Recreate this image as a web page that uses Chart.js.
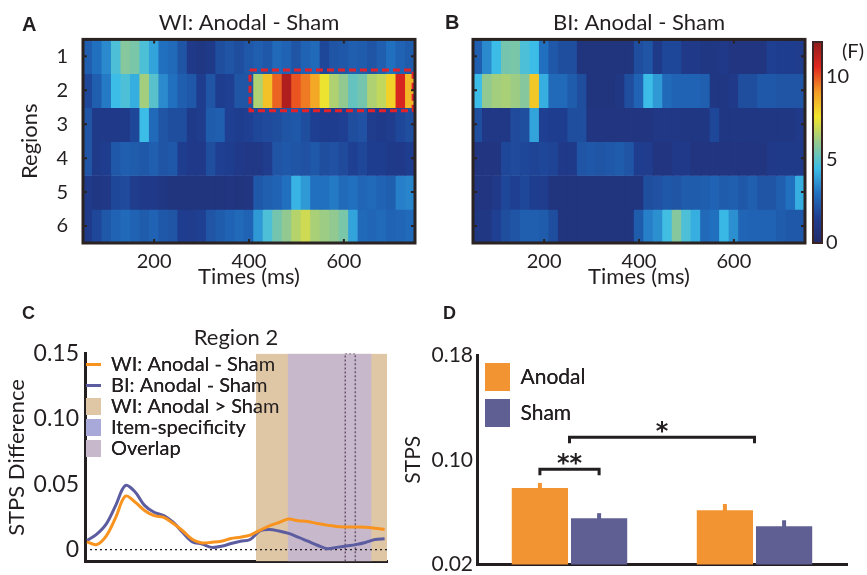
<!DOCTYPE html>
<html>
<head>
<meta charset="UTF-8">
<title>STPS: Anodal vs Sham</title>
<script src="https://cdn.jsdelivr.net/npm/chart.js@4.4.1/dist/chart.umd.min.js"></script>
<style>
    body { margin: 0; background: #fff; font-family: Lato, sans-serif; color: #231f20; }
    #fig { position: relative; width: 867px; height: 575px; overflow: hidden; }
    canvas { position: absolute; }
    .tag { position: absolute; font-family: "Liberation Sans", Arial, sans-serif; font-weight: bold; }
    .unit { position: absolute; font: 20px Lato, sans-serif; }
</style>
</head>
<body>
<div id="fig">
    <canvas id="heatA" width="430" height="290" style="left:0;top:0"></canvas>
    <canvas id="heatB" width="375" height="290" style="left:440px;top:0"></canvas>
    <canvas id="cbar" width="62" height="290" style="left:805px;top:0"></canvas>
    <canvas id="lineC" width="400" height="279" style="left:0;top:300px"></canvas>
    <canvas id="barD" width="467" height="279" style="left:400px;top:300px"></canvas>
    <div class="tag" style="left:22px;top:13px;font-size:20px">A</div>
    <div class="tag" style="left:445px;top:11px;font-size:20px">B</div>
    <div class="tag" style="left:22px;top:303px;font-size:18px">C</div>
    <div class="tag" style="left:443px;top:303px;font-size:18px">D</div>
    <div class="unit" style="left:842px;top:38px">(F)</div>
</div>

<script>
    // ---- data ----
    var regions = [1, 2, 3, 4, 5, 6];
    var times = [60, 80, 100, 120, 140, 160, 180, 200, 220, 240, 260, 280, 300, 320, 340, 360, 380, 400,
                 420, 440, 460, 480, 500, 520, 540, 560, 580, 600, 620, 640, 660, 680, 700, 720, 740];
    var timeTicks = [200, 400, 600];

    // F values per region (rows) and time bin (columns)
    var wiHeat = [
        [2.5,3.0,3.5,4.8,5.8,5.6,4.8,4.0,3.0,2.8,2.2,1.2,1.0,1.3,2.0,2.2,2.0,2.3,2.5,2.3,2.8,2.6,2.2,2.6,2.8,1.8,2.2,2.3,2.5,2.4,2.2,2.5,3.0,2.6,2.4],
        [1.8,2.5,3.2,4.5,4.8,4.2,6.3,5.0,3.5,3.0,2.5,2.3,1.5,2.2,1.5,1.6,2.2,2.2,6.5,8.3,9.8,11.5,10.0,9.5,8.8,7.5,6.5,6.0,5.2,5.5,6.5,6.8,8.0,10.8,8.5],
        [2.2,1.3,1.2,1.2,1.3,1.8,4.5,2.8,2.2,2.0,2.0,1.3,1.4,2.4,2.5,1.6,1.5,1.6,1.8,1.9,2.0,2.2,2.3,2.0,1.6,1.5,1.5,1.6,2.0,2.1,1.4,1.3,1.4,1.8,2.0],
        [2.2,1.3,1.5,2.3,2.5,2.4,2.3,2.5,2.2,2.3,1.5,1.2,1.2,2.0,1.6,1.5,1.2,1.1,1.1,1.4,2.2,2.3,2.2,2.1,2.3,2.0,2.1,1.9,1.6,1.8,1.5,1.5,1.3,1.2,1.5],
        [1.3,1.0,1.1,1.8,1.9,1.4,1.2,1.2,1.0,0.8,0.8,0.8,0.8,0.8,0.8,0.9,0.8,0.9,2.3,2.5,2.6,3.0,4.3,3.8,3.0,3.0,3.2,2.8,3.0,2.7,2.8,2.6,2.5,3.3,3.4],
        [1.3,1.8,2.3,2.6,2.8,2.6,2.4,2.6,2.3,2.2,1.5,1.4,1.6,2.2,2.4,2.6,2.8,2.6,3.8,4.8,5.5,6.0,6.6,7.0,6.4,6.2,6.0,5.6,4.0,2.8,2.7,2.8,2.6,2.7,2.8]
    ];
    var biHeat = [
        [2.5,3.5,4.5,5.5,5.6,4.8,4.5,3.0,2.3,2.0,2.0,0.8,0.8,0.8,0.8,0.8,0.8,2.0,2.2,1.3,1.8,1.8,1.2,1.2,1.0,1.0,1.2,0.9,0.9,0.9,0.9,1.6,1.5,1.5,1.4],
        [4.5,6.0,6.3,6.4,6.2,5.8,8.2,4.2,2.8,2.8,2.4,2.0,0.8,0.8,0.8,1.0,2.0,2.6,4.5,3.8,2.8,2.6,2.6,2.6,2.5,1.0,1.0,1.2,2.0,2.0,2.3,2.3,2.2,2.2,2.2],
        [2.0,1.1,1.1,1.1,1.9,2.0,4.0,1.6,1.5,1.5,2.0,2.0,0.9,0.9,0.9,0.9,0.9,0.9,0.9,1.1,1.1,1.1,1.0,1.0,1.0,1.8,1.0,1.0,1.0,1.0,1.0,1.0,1.0,1.0,1.2],
        [0.9,0.9,0.9,1.8,1.9,1.8,1.7,1.8,1.7,1.2,1.3,2.2,2.3,2.2,2.3,2.4,2.2,1.5,1.4,0.9,0.9,1.2,1.2,0.9,0.9,0.9,0.9,0.9,0.9,0.9,0.9,1.2,1.3,1.3,1.3],
        [0.9,0.9,1.2,1.8,1.6,1.8,1.5,1.4,0.8,0.8,0.8,0.8,0.8,0.8,0.8,0.8,0.8,0.8,2.0,2.1,2.3,2.2,2.4,2.4,2.5,2.6,2.4,2.5,2.3,2.5,2.2,2.2,2.5,3.0,4.2],
        [1.0,1.0,1.6,2.0,2.2,2.5,2.5,2.4,2.0,0.8,0.8,0.8,0.8,0.8,0.8,0.8,0.8,2.4,3.3,3.6,4.6,5.8,4.8,4.2,2.8,3.0,4.4,3.6,2.7,2.6,2.6,2.6,2.4,2.3,2.3]
    ];
    // highlighted window in panel A (region 2)
    var boxTimes = [402, 746];
    var boxRows = [1.4, 2.6];

    var cbarMax = 12.1;
    var cbarTicks = [0, 5, 10];

    // panel C: region 2 time course
    var timesC = [60, 80, 100, 120, 140, 160, 180, 200, 220, 240, 260, 280, 300, 320, 340, 360,
                  380, 400, 420, 440, 460, 480, 500, 520, 540, 560, 580, 600, 620, 640, 660, 680];
    var wiDiff = [0.0060, 0.0039, 0.0104, 0.0247, 0.0409, 0.0365, 0.0300, 0.0260, 0.0247, 0.0200, 0.0143, 0.0078,
                  0.0052, 0.0057, 0.0065, 0.0086, 0.0096, 0.0112, 0.0148, 0.0182, 0.0208, 0.0234, 0.0221, 0.0216,
                  0.0200, 0.0188, 0.0177, 0.0174, 0.0174, 0.0172, 0.0164, 0.0154];
    var biDiff = [0.0070, 0.0117, 0.0195, 0.0339, 0.0490, 0.0443, 0.0339, 0.0286, 0.0260, 0.0208, 0.0130, 0.0060,
                  0.0044, 0.0018, 0.0026, 0.0047, 0.0065, 0.0078, 0.0143, 0.0154, 0.0143, 0.0125, 0.0096, 0.0065,
                  0.0034, 0.0008, 0.0018, 0.0029, 0.0039, 0.0055, 0.0078, 0.0083];
    var wiSigWindow = [412, 685];
    var overlapWindow = [478, 653];
    var dottedWindow = [598, 619];
    var xRangeC = [56, 685];
    var yRangeC = [-0.009, 0.15];
    var yTicksC = [0, 0.05, 0.10, 0.15];
    var yTickLabelsC = ['0', '0.05', '0.10', '0.15'];
    var legendNamesC = ['WI: Anodal - Sham', 'BI: Anodal - Sham', 'WI: Anodal > Sham', 'Item-specificity', 'Overlap'];

    // panel D
    var groupsD = ['WI', 'BI'];
    var anodalD = [0.0785, 0.0615];
    var shamD = [0.0554, 0.0492];
    var anodalErr = [0.0038, 0.0047];
    var shamErr = [0.0038, 0.0046];
    var yTicksD = [0.02, 0.10, 0.18];
    var yTickLabelsD = ['0.02', '0.10', '0.18'];
    var sigLevels = [0.0928, 0.1172];
    var sigMarks = ['**', '*'];
    var sigFrom = [[0, 0], [-1, 0]];   // [dataset, index]; -1 = group centre
    var sigTo = [[1, 0], [-1, 1]];

    // ---- styles ----
    var ink = '#231f20';
    var frameInk = '#2b2222';
    var orange = '#f7931e';
    var purple = '#5c5ca0';
    var barOrange = '#f39433';
    var barPurple = '#5f5f94';
    var legendColorsC = [orange, purple, '#dfc6a5', '#a9a9d9', '#c7b9cb'];
    var legendStylesC = ['line', 'line', 'rect', 'rect', 'rect'];
    var cmapStops = [0, 1.5, 3.0, 4.5, 6.05, 7.6, 9.1, 10.6, 12.1];
    var cmapColors = ['#232a6a', '#1f3d8f', '#2170c0', '#3cbde8', '#94c98e', '#f2e52a', '#f39a25', '#e2261f', '#8e1b1c'];

    Chart.defaults.font.family = 'Lato, "Open Sans", sans-serif';
    Chart.defaults.color = ink;
    Chart.defaults.animation = false;
    Chart.defaults.responsive = false;
    Chart.defaults.events = [];
    Chart.defaults.plugins.tooltip.enabled = false;

    function hexRgb(h) {
        var n = parseInt(h.slice(1), 16);
        return [n >> 16, (n >> 8) & 255, n & 255];
    }
    function heatColor(v) {
        if (v <= cmapStops[0]) return cmapColors[0];
        for (var k = 1; k < cmapStops.length; k++) {
            if (v <= cmapStops[k]) {
                var f = (v - cmapStops[k - 1]) / (cmapStops[k] - cmapStops[k - 1]);
                var a = hexRgb(cmapColors[k - 1]), b = hexRgb(cmapColors[k]);
                return 'rgb(' + a.map(function (x, m) { return Math.round(x + (b[m] - x) * f); }).join(',') + ')';
            }
        }
        return cmapColors[cmapColors.length - 1];
    }
    function fixedTicks(list) {
        return function (scale) { scale.ticks = list.map(function (v) { return { value: v }; }); };
    }

    // frame round the plot area, with small inward ticks
    var framePlugin = {
        id: 'frame',
        afterDraw: function (chart, args, opts) {
            var ctx = chart.ctx, a = chart.chartArea, sx = chart.scales.x, sy = chart.scales.y;
            ctx.save();
            ctx.strokeStyle = opts.color;
            ctx.lineWidth = opts.width;
            ctx.strokeRect(a.left, a.top, a.right - a.left, a.bottom - a.top);
            if (opts.tickLen) {
                ctx.lineWidth = 2;
                ctx.beginPath();
                sx.ticks.forEach(function (t) {
                    var px = sx.getPixelForValue(t.value);
                    ctx.moveTo(px, a.top); ctx.lineTo(px, a.top + opts.tickLen);
                    ctx.moveTo(px, a.bottom); ctx.lineTo(px, a.bottom - opts.tickLen);
                });
                sy.ticks.forEach(function (t) {
                    var py = sy.getPixelForValue(t.value);
                    ctx.moveTo(a.left, py); ctx.lineTo(a.left + opts.tickLen, py);
                    ctx.moveTo(a.right, py); ctx.lineTo(a.right - opts.tickLen, py);
                });
                ctx.stroke();
            }
            ctx.restore();
        }
    };

    // keep an inside legend pinned to the top-left corner of the plot area
    var legendInArea = {
        id: 'legendInArea',
        afterLayout: function (chart) {
            var lg = chart.legend, a = chart.chartArea;
            if (!lg) return;
            lg.left = a.left; lg.top = a.top; lg.right = a.right; lg.bottom = a.bottom;
        },
        afterDatasetsDraw: function (chart) { chart.legend.draw(); }
    };

    function heatmap(id, rows, title, yWidth, padRight, showRows, box) {
        var datasets = rows.map(function (vals, i) {
            return {
                type: 'bar',
                data: times.map(function (t) { return { x: t, y: [regions[i] - 0.5, regions[i] + 0.52] }; }),
                backgroundColor: vals.map(heatColor),
                borderWidth: 0,
                grouped: false,
                barPercentage: 1.1,
                categoryPercentage: 1,
                order: 1
            };
        });
        if (box) {
            datasets.unshift({
                type: 'line',
                data: [
                    { x: boxTimes[0], y: boxRows[0] }, { x: boxTimes[1], y: boxRows[0] },
                    { x: boxTimes[1], y: boxRows[1] }, { x: boxTimes[0], y: boxRows[1] },
                    { x: boxTimes[0], y: boxRows[0] }
                ],
                borderColor: '#e3212b',
                borderWidth: 3,
                borderDash: [7, 4],
                pointRadius: 0,
                fill: false,
                clip: false,
                order: 0
            });
        }
        return new Chart(document.getElementById(id), {
            type: 'bar',
            data: { datasets: datasets },
            options: {
                layout: { padding: { right: padRight } },
                plugins: {
                    legend: { display: false },
                    title: { display: true, text: title, fullSize: false, font: { size: 22, weight: 'normal' },
                             color: ink, padding: { top: 10, bottom: 3 } },
                    frame: { color: frameInk, width: 3, tickLen: 4 }
                },
                scales: {
                    x: {
                        type: 'linear', min: 50, max: 750, offset: false,
                        afterBuildTicks: fixedTicks(timeTicks),
                        ticks: { font: { size: 20 }, padding: 7, color: ink },
                        grid: { display: false, drawTicks: false, offset: false },
                        border: { display: false },
                        title: { display: true, text: 'Times (ms)', font: { size: 22 }, color: ink, padding: { top: 0, bottom: 0 } },
                        afterFit: function (s) { s.height = 47; }
                    },
                    y: {
                        type: 'linear', min: 0.5, max: 6.5, reverse: true,
                        afterBuildTicks: fixedTicks(regions),
                        ticks: { display: showRows, font: { size: 20 }, padding: 15, color: ink },
                        grid: { display: false, drawTicks: false },
                        border: { display: false },
                        title: { display: showRows, text: 'Regions', font: { size: 22 }, color: ink, padding: { top: 17, bottom: 0 } },
                        afterFit: function (s) { s.width = yWidth; }
                    }
                }
            },
            plugins: [framePlugin]
        });
    }

    heatmap('heatA', wiHeat, 'WI: Anodal - Sham', 83, 15, true, true);
    heatmap('heatB', biHeat, 'BI: Anodal - Sham', 33, 10, false, false);

    // colour bar
    new Chart(document.getElementById('cbar'), {
        type: 'bar',
        data: {
            labels: ['F'],
            datasets: [{
                data: [[0, cbarMax]],
                backgroundColor: function (c) {
                    var chart = c.chart, y = chart.scales.y;
                    if (!chart.chartArea || !y) return cmapColors[0];
                    var g = chart.ctx.createLinearGradient(0, y.getPixelForValue(0), 0, y.getPixelForValue(cbarMax));
                    cmapStops.forEach(function (s, k) { g.addColorStop(s / cbarMax, cmapColors[k]); });
                    return g;
                },
                borderWidth: 0,
                barPercentage: 1,
                categoryPercentage: 1
            }]
        },
        options: {
            layout: { padding: { left: 8, top: 42, bottom: 47 } },
            plugins: { legend: { display: false }, frame: { color: '#3a2424', width: 2 } },
            scales: {
                x: { display: false },
                y: {
                    position: 'right', min: 0, max: cbarMax,
                    afterBuildTicks: fixedTicks(cbarTicks),
                    ticks: { font: { size: 20 }, padding: 4, color: ink },
                    grid: { display: false, drawTicks: false },
                    border: { display: false },
                    afterFit: function (s) { s.width = 45; }
                }
            }
        },
        plugins: [framePlugin]
    });

    // panel C
    function span(range, level) {
        return [{ x: range[0], y: level }, { x: range[1], y: level }];
    }

    new Chart(document.getElementById('lineC'), {
        type: 'line',
        data: {
            datasets: [
                { data: timesC.map(function (t, i) { return { x: t, y: wiDiff[i] }; }),
                  borderColor: orange, borderWidth: 3, pointRadius: 0, tension: 0.35, order: 0 },
                { data: timesC.map(function (t, i) { return { x: t, y: biDiff[i] }; }),
                  borderColor: purple, borderWidth: 3, pointRadius: 0, tension: 0.35, order: 0 },
                { data: span(xRangeC, 0), borderColor: ink, borderWidth: 1.3, borderDash: [2, 3], pointRadius: 0, order: 1 },
                { data: [{ x: dottedWindow[0], y: yRangeC[0] }, { x: dottedWindow[0], y: yRangeC[1] },
                         { x: dottedWindow[1], y: yRangeC[1] }, { x: dottedWindow[1], y: yRangeC[0] }],
                  borderColor: '#6e5470', borderWidth: 1.5, borderDash: [2, 2], pointRadius: 0, order: 1 },
                { data: span(overlapWindow, yRangeC[1]), fill: { value: yRangeC[0] }, backgroundColor: legendColorsC[4],
                  borderWidth: 0, pointRadius: 0, order: 2 },
                { data: span(wiSigWindow, yRangeC[1]), fill: { value: yRangeC[0] }, backgroundColor: legendColorsC[2],
                  borderWidth: 0, pointRadius: 0, order: 3 }
            ]
        },
        options: {
            layout: { padding: { right: 13 } },
            plugins: {
                title: { display: true, text: 'Region 2', fullSize: false, font: { size: 22, weight: 'normal' },
                         color: ink, padding: { top: 25, bottom: 2 } },
                legend: {
                    position: 'chartArea', align: 'start',
                    labels: {
                        usePointStyle: true, pointStyleWidth: 15, boxHeight: 17, padding: 1,
                        font: { size: 20 }, color: ink,
                        generateLabels: function () {
                            return legendNamesC.map(function (name, k) {
                                return {
                                    text: name, fillStyle: legendColorsC[k], strokeStyle: legendColorsC[k],
                                    lineWidth: legendStylesC[k] === 'line' ? 3 : 0, pointStyle: legendStylesC[k],
                                    fontColor: ink, hidden: false, datasetIndex: k
                                };
                            });
                        }
                    }
                }
            },
            scales: {
                x: {
                    type: 'linear', min: xRangeC[0], max: xRangeC[1],
                    ticks: { display: false },
                    grid: { display: false, drawTicks: false },
                    border: { display: true, color: ink, width: 3 },
                    afterFit: function (s) { s.height = 13; }
                },
                y: {
                    min: yRangeC[0], max: yRangeC[1],
                    afterBuildTicks: fixedTicks(yTicksC),
                    ticks: { callback: function (v, i) { return yTickLabelsC[i]; }, font: { size: 23, lineHeight: 1 }, padding: 6, color: ink },
                    grid: { display: false, drawTicks: false },
                    border: { display: true, color: ink, width: 3 },
                    title: { display: true, text: 'STPS Difference', font: { size: 22 }, color: ink, padding: { top: 4, bottom: 0 } },
                    afterFit: function (s) { s.width = 85; }
                }
            }
        },
        plugins: [legendInArea]
    });

    // panel D
    var errorBarPlugin = {
        id: 'errorBars',
        afterDatasetsDraw: function (chart) {
            var ctx = chart.ctx, y = chart.scales.y, errs = [anodalErr, shamErr];
            ctx.save();
            ctx.lineWidth = 4;
            chart.data.datasets.forEach(function (ds, i) {
                chart.getDatasetMeta(i).data.forEach(function (bar, j) {
                    ctx.strokeStyle = ds.backgroundColor;
                    ctx.beginPath();
                    ctx.moveTo(bar.x, y.getPixelForValue(ds.data[j]) + 1);
                    ctx.lineTo(bar.x, y.getPixelForValue(ds.data[j] + errs[i][j]));
                    ctx.stroke();
                });
            });
            ctx.restore();
        }
    };
    var bracketPlugin = {
        id: 'sigBrackets',
        afterDatasetsDraw: function (chart) {
            var ctx = chart.ctx, x = chart.scales.x, y = chart.scales.y;
            function endX(e) { return e[0] < 0 ? x.getPixelForValue(e[1]) : chart.getDatasetMeta(e[0]).data[e[1]].x; }
            ctx.save();
            ctx.strokeStyle = ink;
            ctx.fillStyle = ink;
            ctx.lineWidth = 3;
            ctx.font = 'bold 24px "DejaVu Sans"';
            ctx.textAlign = 'center';
            ctx.textBaseline = 'alphabetic';
            sigLevels.forEach(function (lvl, k) {
                var x0 = endX(sigFrom[k]), x1 = endX(sigTo[k]), py = y.getPixelForValue(lvl);
                ctx.beginPath();
                ctx.moveTo(x0, py + 6); ctx.lineTo(x0, py); ctx.lineTo(x1, py); ctx.lineTo(x1, py + 6);
                ctx.stroke();
                ctx.fillText(sigMarks[k], (x0 + x1) / 2, py + 2);
            });
            ctx.restore();
        }
    };

    new Chart(document.getElementById('barD'), {
        type: 'bar',
        data: {
            labels: groupsD,
            datasets: [
                { label: 'Anodal', data: anodalD, backgroundColor: barOrange, borderWidth: 0 },
                { label: 'Sham', data: shamD, backgroundColor: barPurple, borderWidth: 0 }
            ]
        },
        options: {
            layout: { padding: { top: 55, right: 20 } },
            datasets: { bar: { categoryPercentage: 0.64, barPercentage: 0.95 } },
            plugins: {
                legend: {
                    position: 'chartArea', align: 'start',
                    labels: { boxWidth: 25, boxHeight: 28, padding: 8, font: { size: 21 }, color: ink }
                }
            },
            scales: {
                x: {
                    ticks: { display: false },
                    grid: { display: false, drawTicks: false },
                    border: { display: true, color: ink, width: 3 },
                    afterFit: function (s) { s.height = 12; }
                },
                y: {
                    min: 0.02, max: 0.18,
                    afterBuildTicks: fixedTicks(yTicksD),
                    ticks: { callback: function (v, i) { return yTickLabelsD[i]; }, font: { size: 21, lineHeight: 1 }, padding: 4, color: ink },
                    grid: { display: false, drawTicks: false },
                    border: { display: true, color: ink, width: 3 },
                    title: { display: true, text: 'STPS', font: { size: 21 }, color: ink, padding: { top: 1, bottom: 0 } },
                    afterFit: function (s) { s.width = 77; }
                }
            }
        },
        plugins: [legendInArea, errorBarPlugin, bracketPlugin]
    });
</script>
</body>
</html>
